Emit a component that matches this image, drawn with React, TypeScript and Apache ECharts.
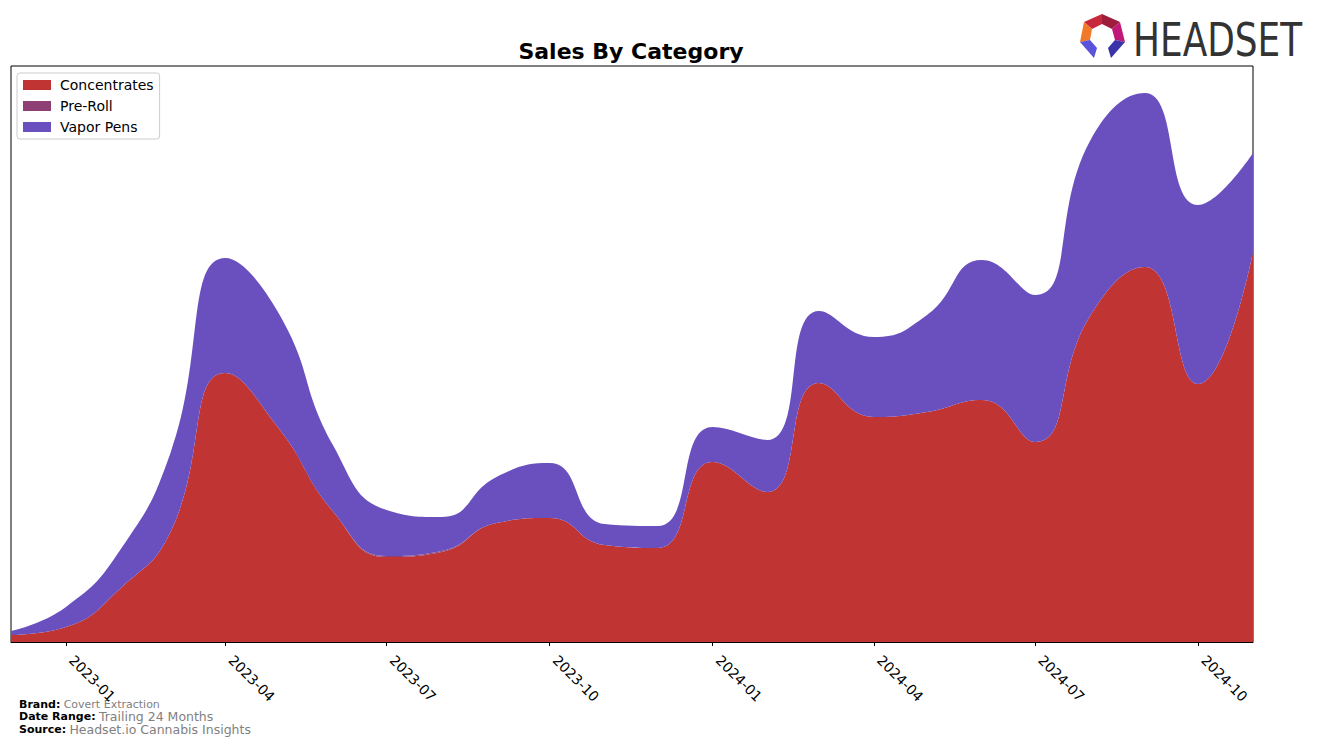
import React, { useEffect, useRef } from "react";
import * as echarts from "echarts";

const months = [
  "2022-12", "2023-01", "2023-02", "2023-03", "2023-04", "2023-05", "2023-06", "2023-07",
  "2023-08", "2023-09", "2023-10", "2023-11", "2023-12", "2024-01", "2024-02", "2024-03",
  "2024-04", "2024-05", "2024-06", "2024-07", "2024-08", "2024-09", "2024-10", "2024-11",
];
const concentrates = [7, 15, 54, 110, 269, 214, 130, 85, 90, 119, 124, 97, 94, 180, 150, 259, 225, 230, 242, 200, 326, 375, 258, 390];
const preRoll = [0, 0, 0, 0, 0, 0, 0, 1, 1, 0, 0, 0, 0, 0, 0, 0, 0, 0, 0, 0, 0, 0, 0, 0];
const vaporPens = [4, 20, 39, 79, 115, 115, 66, 46, 34, 46, 55, 21, 22, 35, 52, 72, 80, 97, 140, 147, 175, 174, 179, 99];
const tickMonths = ["2023-01", "2023-04", "2023-07", "2023-10", "2024-01", "2024-04", "2024-07", "2024-10"];

const toTs = (m: string) => {
  const [y, mo] = m.split("-").map(Number);
  return Date.UTC(y, mo - 1, 1);
};
const xs = months.map(toTs);
const tickTs = tickMonths.map(toTs);
const tsLabel: Record<number, string> = {};
tickMonths.forEach((m, i) => (tsLabel[tickTs[i]] = m));
const xMin = toTs("2022-12");
const xMax = toTs("2024-11");

const FONT = "DejaVu Sans";

export default function App() {
  const ref = useRef<HTMLDivElement>(null);
  useEffect(() => {
    if (!ref.current) return;
    const chart = echarts.init(ref.current, null, { renderer: "svg" });
    const mk = (name: string, vals: number[], color: string) => ({
      name,
      type: "line",
      stack: "total",
      xAxisIndex: 0,
      smooth: 0.5,
      symbol: "none",
      data: vals.map((v, i) => [xs[i], v]),
      lineStyle: { width: 0 },
      itemStyle: { color },
      areaStyle: { color, opacity: 1 },
    });
    chart.setOption({
      animation: false,
      title: {
        text: "Sales By Category",
        left: 626,
        top: 35,
        textAlign: "center",
        textStyle: { fontFamily: FONT, fontSize: 22, fontWeight: "bold", color: "#000" },
      },
      legend: {
        orient: "vertical",
        left: 17,
        top: 73,
        icon: "rect",
        itemWidth: 28,
        itemHeight: 10,
        itemGap: 7,
        padding: [5, 6, 5, 6],
        borderColor: "#cccccc",
        borderWidth: 1,
        borderRadius: 3,
        backgroundColor: "#fff",
        textStyle: { fontFamily: FONT, fontSize: 14, color: "#000", padding: [0, 0, 0, 4] },
        data: ["Concentrates", "Pre-Roll", "Vapor Pens"],
      },
      grid: {
        left: 11,
        right: 64,
        top: 66,
        bottom: 103,
        show: true,
        borderColor: "#000",
        borderWidth: 1,
        backgroundColor: "transparent",
      },
      xAxis: [
        {
          type: "time",
          min: xMin,
          max: xMax,
          splitLine: { show: false },
          axisLine: { show: false },
          axisTick: { show: false },
          axisLabel: { show: false },
        },
        {
          type: "value",
          position: "bottom",
          min: xMin,
          max: xMax,
          splitLine: { show: false },
          axisLine: { show: true, onZero: false, lineStyle: { color: "#000" } },
          axisTick: {
            show: true,
            customValues: tickTs,
            length: 4,
            lineStyle: { color: "#000" },
          },
          axisLabel: {
            customValues: tickTs,
            rotate: -45,
            margin: 10,
            padding: [0, 0, 0, 8],
            fontFamily: FONT,
            fontSize: 14,
            color: "#000",
            formatter: (v: number) => tsLabel[v] ?? "",
          },
        },
      ],
      yAxis: {
        type: "value",
        min: 0,
        max: 576,
        show: false,
        splitLine: { show: false },
      },
      series: [
        mk("Concentrates", concentrates, "#c13434"),
        mk("Pre-Roll", preRoll, "#8e3f74"),
        mk("Vapor Pens", vaporPens, "#6a4fbf"),
      ],
      graphic: [
        {
          type: "text",
          left: 19,
          top: 698,
          style: {
            text: "{b|Brand:} {g|Covert Extraction}",
            rich: {
              b: { fontFamily: FONT, fontSize: 11, fontWeight: "bold", fill: "#000", lineHeight: 12 },
              g: { fontFamily: FONT, fontSize: 11, fill: "#808080", lineHeight: 12 },
            },
          },
        },
        {
          type: "text",
          left: 19,
          top: 710,
          style: {
            text: "{b|Date Range:} {g|Trailing 24 Months}",
            rich: {
              b: { fontFamily: FONT, fontSize: 11, fontWeight: "bold", fill: "#000", lineHeight: 12 },
              g: { fontFamily: FONT, fontSize: 12.5, fill: "#808080", lineHeight: 12 },
            },
          },
        },
        {
          type: "text",
          left: 19,
          top: 723,
          style: {
            text: "{b|Source:} {g|Headset.io Cannabis Insights}",
            rich: {
              b: { fontFamily: FONT, fontSize: 11, fontWeight: "bold", fill: "#000", lineHeight: 12 },
              g: { fontFamily: FONT, fontSize: 12.5, fill: "#808080", lineHeight: 12 },
            },
          },
        },
        {
          type: "group",
          children: [
            { type: "polygon", shape: { points: [[1084, 22], [1102, 14], [1102, 24], [1092, 29]] }, style: { fill: "#c8283c" } },
            { type: "polygon", shape: { points: [[1102, 14], [1120, 22], [1112, 29], [1102, 24]] }, style: { fill: "#9e1c3c" } },
            { type: "polygon", shape: { points: [[1084, 22], [1092, 29], [1090, 40], [1080, 42]] }, style: { fill: "#f07a2a" } },
            { type: "polygon", shape: { points: [[1120, 22], [1125, 42], [1115, 40], [1112, 29]] }, style: { fill: "#c01878" } },
            { type: "polygon", shape: { points: [[1080, 42], [1090, 40], [1097, 48], [1094, 58]] }, style: { fill: "#5a52d8" } },
            { type: "polygon", shape: { points: [[1115, 40], [1125, 42], [1111, 58], [1108, 48]] }, style: { fill: "#3a34a8" } },
          ],
        },
        {
          type: "text",
          x: 1133,
          y: 17,
          scaleX: 0.78,
          style: {
            text: "HEADSET",
            fontFamily: FONT,
            fontSize: 46,
            fill: "#333333",
          },
        },
      ],
    });
    return () => chart.dispose();
  }, []);
  return (
    <div
      ref={ref}
      style={{ position: "fixed", left: 0, top: 0, width: 1317, height: 745, background: "#fff" }}
    />
  );
}
